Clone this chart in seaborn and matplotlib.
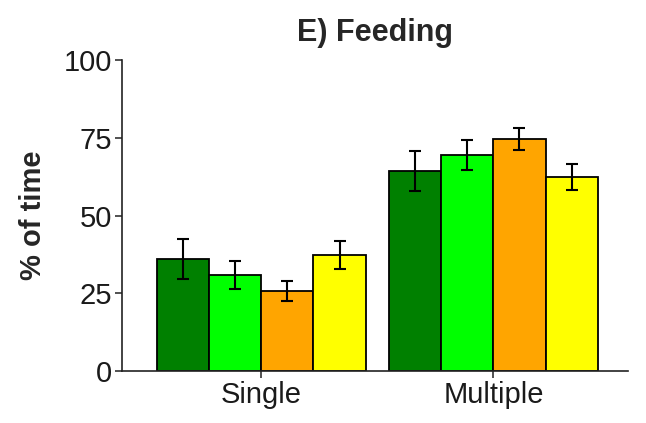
import matplotlib
matplotlib.use("Agg")
import matplotlib.pyplot as plt
import seaborn as sns
import pandas as pd
import numpy as np

# Data
groups = ["Single", "Multiple"]
treatments = ["T1", "T2", "T3", "T4"]
single_means = [36.0, 30.9, 25.7, 37.3]
single_se = [6.4, 4.5, 3.2, 4.5]
multiple_means = [64.3, 69.5, 74.5, 62.3]
multiple_se = [6.4, 4.8, 3.5, 4.2]
colors = ["#008000", "#00FF00", "#FFA500", "#FFFF00"]
y_ticks = [0, 25, 50, 75, 100]

df = pd.DataFrame({
    "group": np.repeat(groups, len(treatments)),
    "treatment": treatments * len(groups),
    "mean": single_means + multiple_means,
    "se": single_se + multiple_se,
})

sns.set_style("white")
plt.rcParams["font.family"] = ["Liberation Sans", "DejaVu Sans"]

fig = plt.figure(figsize=(6.46, 4.23), dpi=100)
ax = fig.add_axes([122 / 646, 1 - 371 / 423, (628 - 122) / 646, (371 - 60) / 423])

sns.barplot(data=df, x="group", y="mean", hue="treatment", order=groups,
            hue_order=treatments, palette=colors, width=0.9, errorbar=None,
            edgecolor="black", linewidth=1.3, ax=ax, legend=False, saturation=1)

# error bars at the bar positions seaborn produced
for container, t in zip(ax.containers, treatments):
    sub = df[df["treatment"] == t].set_index("group").loc[groups]
    xs = [p.get_x() + p.get_width() / 2 for p in container.patches]
    ax.errorbar(xs, sub["mean"].values, yerr=sub["se"].values, fmt="none",
                ecolor="black", elinewidth=1.5, capsize=4.3, capthick=1.5, zorder=5)

ax.set_xlim(-0.6, 1.58)
ax.set_ylim(0, 100)
ax.set_yticks(y_ticks)
ax.set_xlabel("")
ax.set_ylabel("% of time", fontsize=21, fontweight="bold", labelpad=12)
ax.set_title("E) Feeding", fontsize=22, fontweight="bold", pad=14)

for s in ["top", "right"]:
    ax.spines[s].set_visible(False)
for s in ["left", "bottom"]:
    ax.spines[s].set_color("#222222")
    ax.spines[s].set_linewidth(1.2)
ax.tick_params(axis="both", which="both", direction="out", length=5, width=1.2,
               color="#333333", labelsize=21, labelcolor="#1a1a1a", pad=2)
ax.tick_params(left=True, bottom=True)

fig.savefig("out.png", dpi=100)
